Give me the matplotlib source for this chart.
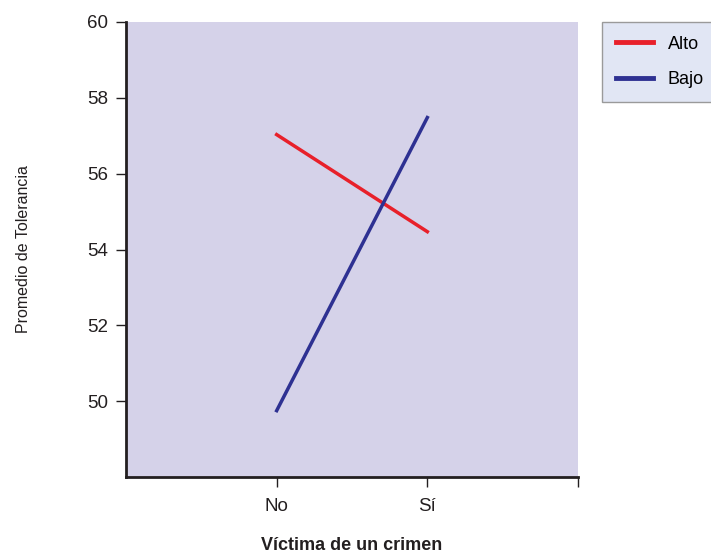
import matplotlib.pyplot as plt
from matplotlib import font_manager

# data
categories = ["No", "Sí"]
alto = [57.03, 54.47]
bajo = [49.75, 57.48]

names = {f.name for f in font_manager.fontManager.ttflist}
narrow = "Liberation Sans Narrow" if "Liberation Sans Narrow" in names else "Liberation Sans"
plt.rcParams['font.family'] = [narrow, 'DejaVu Sans']

fig = plt.figure(figsize=(7.11, 5.57), dpi=100)
ax = fig.add_axes([126/711, 1-477/557, (578-126)/711, (477-22)/557])
ax.set_facecolor('#d5d2e9')

x = list(range(len(categories)))
ax.plot(x, alto, color='#e8202a', lw=2.5, label='Alto')
ax.plot(x, bajo, color='#2e3192', lw=2.5, label='Bajo')

ax.set_xlim(-1, 2)
ax.set_ylim(48, 60)
ax.set_xticks([0, 1, 2])
ax.set_xticklabels(categories + [""])
ax.set_yticks([50, 52, 54, 56, 58, 60])
ax.tick_params(axis='both', labelsize=13.5, colors='#231f20', length=7, width=1, pad=6)
ax.tick_params(axis='x', pad=8)

for s in ['top', 'right']:
    ax.spines[s].set_visible(False)
for s in ['left', 'bottom']:
    ax.spines[s].set_linewidth(2)
    ax.spines[s].set_color('#231f20')

ax.set_ylabel("Promedio de Tolerancia", fontsize=11.5, color='#231f20', labelpad=40)
ax.set_xlabel("Víctima de un crimen", fontsize=13, fontweight='bold', color='#231f20', labelpad=16)

leg = fig.legend(loc='upper left', bbox_to_anchor=(602/711, 1-22/557), borderaxespad=0,
                 fancybox=False, facecolor='#e1e6f4', edgecolor='#9a9a9a', framealpha=1,
                 fontsize=13, handlelength=2.1, handletextpad=0.8, borderpad=0.75,
                 labelspacing=1.05)
leg.get_frame().set_linewidth(1)
for line in leg.get_lines():
    line.set_linewidth(3.5)

fig.savefig("out.png", dpi=100)
